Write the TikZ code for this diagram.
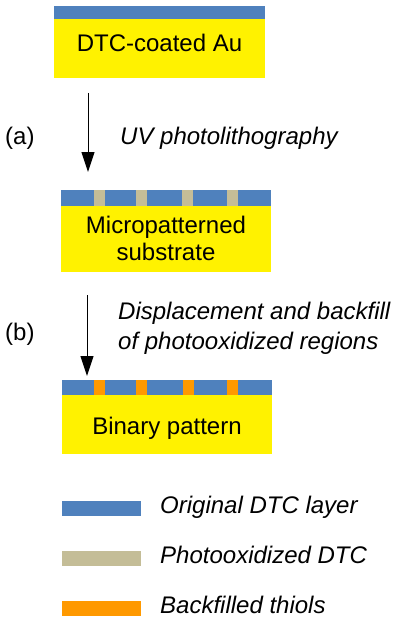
\documentclass[tikz,border=0pt]{standalone}
\usepackage{fontspec}
\setmainfont{Liberation Sans}
\usetikzlibrary{arrows.meta}
\definecolor{dtcblue}{RGB}{79,129,189}
\definecolor{oxgray}{RGB}{196,189,151}
\definecolor{thiolorange}{RGB}{255,153,0}
\begin{document}
\begin{tikzpicture}[x=1pt,y=-1pt,
  lbl/.style={inner sep=0pt,font=\fontsize{24}{28}\selectfont},
  step arrow/.style={line width=1pt,-{Triangle[length=20pt,width=13pt]}}]
\useasboundingbox[fill=white] (0,0) rectangle (400,623);
% Box 1
\fill[yellow] (54,19) rectangle (265,78);
\fill[dtcblue] (54,6) rectangle (265,19);
\node[lbl,anchor=base] (t1) at (159.5,52) {DTC-coated Au};
% Arrow a
\coordinate (a1) at (88,93);
\coordinate (a2) at (88,172);
\draw[step arrow] (a1) -- (a2);
\node[lbl,anchor=base west] (la) at (5,144) {(a)};
\node[lbl,anchor=base west] (ua) at (120,144) {\itshape UV photolithography};
% Box 2
\fill[yellow] (61,206) rectangle (271,272);
\fill[dtcblue] (61,190) rectangle (271,206);
\foreach \x in {94,136,182,227} \fill[oxgray] (\x,190) rectangle (\x+10.5,206);
\node[lbl,anchor=base] (t2a) at (166,233) {Micropatterned};
\node[lbl,anchor=base] (t2b) at (166,260) {substrate};
% Arrow b
\coordinate (b1) at (87,295);
\coordinate (b2) at (87,376);
\draw[step arrow] (b1) -- (b2);
\node[lbl,anchor=base west] (lb) at (5,340) {(b)};
\node[lbl,anchor=base west] (ub1) at (118,319) {\itshape Displacement and backfill};
\node[lbl,anchor=base west] (ub2) at (118,349) {\itshape of photooxidized regions};
% Box 3
\fill[yellow] (62,395) rectangle (272,454);
\fill[dtcblue] (62,380) rectangle (272,395);
\foreach \x in {94,136,182.5,227} \fill[thiolorange] (\x,380) rectangle (\x+11,395);
\node[lbl,anchor=base] (t3) at (167,434) {Binary pattern};
% Legend
\fill[dtcblue] (62,501) rectangle (141,516);
\fill[oxgray] (62,551) rectangle (141,566);
\fill[thiolorange] (62,601) rectangle (141,616);
\node[lbl,anchor=base west] (g1) at (160,513) {\itshape Original DTC layer};
\node[lbl,anchor=base west] (g2) at (160,563) {\itshape Photooxidized DTC};
\node[lbl,anchor=base west] (g3) at (160,613) {\itshape Backfilled thiols};
\end{tikzpicture}
\end{document}
